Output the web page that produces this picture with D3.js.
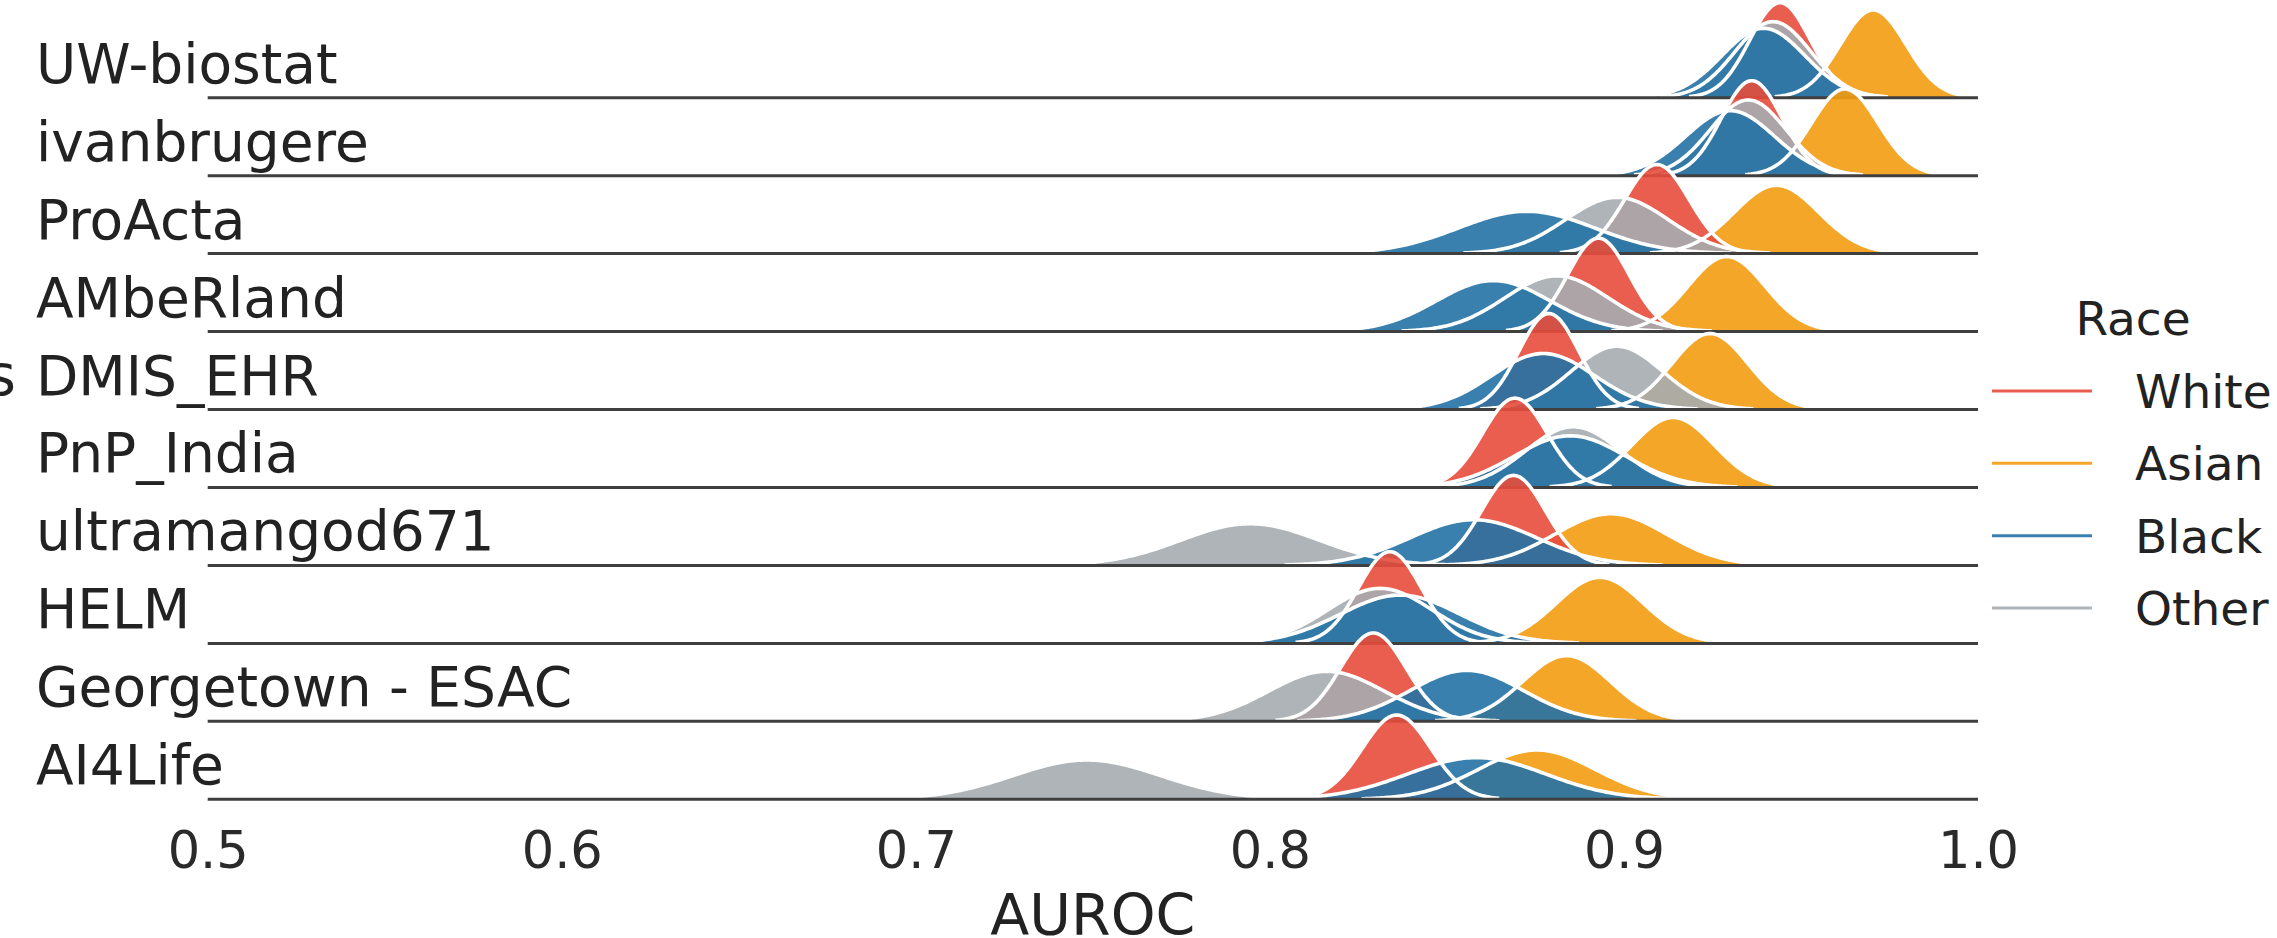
<!DOCTYPE html>
<html>
<head>
<meta charset="utf-8">
<script src="https://cdn.jsdelivr.net/npm/d3@7"></script>
<style>
  html, body { margin: 0; padding: 0; background: #ffffff; }
  svg { display: block; font-family: "DejaVu Sans", sans-serif; }
</style>
</head>
<body>
<svg id="chart" width="2277" height="938"></svg>
<script>
// ---- Data ----
const teams = ["UW-biostat", "ivanbrugere", "ProActa", "AMbeRland", "DMIS_EHR",
               "PnP_India", "ultramangod671", "HELM", "Georgetown - ESAC", "AI4Life"];
const races = ["White", "Asian", "Black", "Other"];
const xTicks = [0.5, 0.6, 0.7, 0.8, 0.9, 1.0];

// AUROC distribution per team (mean, sd), one pair of arrays per race
const whiteMean = [0.9441, 0.9361, 0.9093, 0.8928, 0.8788, 0.8692, 0.8688, 0.8339, 0.8292, 0.8358];
const whiteSd   = [0.00857, 0.00857, 0.00914, 0.00871, 0.00848, 0.00911, 0.00904, 0.00888, 0.00921, 0.00966];
const asianMean = [0.9704, 0.9624, 0.9431, 0.9290, 0.9243, 0.9139, 0.8963, 0.8932, 0.8838, 0.8754];
const asianSd   = [0.00928, 0.00939, 0.01192, 0.01085, 0.01071, 0.01163, 0.01575, 0.01233, 0.01239, 0.01651];
const blackMean = [0.9394, 0.9300, 0.8725, 0.8631, 0.8772, 0.8848, 0.8575, 0.8368, 0.8556, 0.8584];
const blackSd   = [0.01173, 0.01252, 0.01924, 0.01596, 0.01453, 0.01575, 0.01780, 0.01685, 0.01596, 0.01952];
const otherMean = [0.9421, 0.9351, 0.8980, 0.8810, 0.8980, 0.8857, 0.7944, 0.8311, 0.8160, 0.7483];
const otherSd   = [0.01070, 0.01075, 0.01446, 0.01461, 0.01286, 0.01340, 0.01952, 0.01480, 0.01628, 0.02071];

const raceColors = { White: "#E74C3C", Asian: "#F39C12", Black: "#2472A5", Other: "#A5ACAF" };
const drawOrder = ["Asian", "White", "Other", "Black"]; // bottom -> top
const params = {
  White: { mean: whiteMean, sd: whiteSd },
  Asian: { mean: asianMean, sd: asianSd },
  Black: { mean: blackMean, sd: blackSd },
  Other: { mean: otherMean, sd: otherSd }
};

// ---- Layout ----
const svg = d3.select("#chart");
const x = d3.scaleLinear().domain([0.5, 1.0]).range([207.7, 1978]);
const row = d3.scalePoint().domain(teams).range([97.7, 799.3]);
const dens = d3.scaleLinear().domain([0, 50]).range([0, 102]);

const textColor = "#222222";

function curvePoints(m, s) {
  const n = 160, lo = m - 3 * s, hi = m + 3 * s;
  return d3.range(n + 1).map(i => {
    const v = lo + (hi - lo) * i / n;
    const z = (v - m) / s;
    return { v, d: Math.exp(-0.5 * z * z) / (s * Math.sqrt(2 * Math.PI)) };
  });
}

teams.forEach((team, ti) => {
  const base = row(team);
  const g = svg.append("g").attr("class", "row");
  const area = d3.area().x(p => x(p.v)).y0(base).y1(p => base - dens(p.d));
  const line = d3.line().x(p => x(p.v)).y(p => base - dens(p.d));
  const curves = drawOrder.map(r => ({ race: r, pts: curvePoints(params[r].mean[ti], params[r].sd[ti]) }));

  g.selectAll("path.fill").data(curves).join("path")
    .attr("class", "fill")
    .attr("d", c => area(c.pts))
    .attr("fill", c => raceColors[c.race])
    .attr("fill-opacity", 0.9);

  g.selectAll("path.outline").data(curves).join("path")
    .attr("class", "outline")
    .attr("d", c => line(c.pts))
    .attr("fill", "none")
    .attr("stroke", "#ffffff")
    .attr("stroke-width", 3.6);

  g.append("line")
    .attr("x1", x(0.5)).attr("x2", x(1.0))
    .attr("y1", base).attr("y2", base)
    .attr("stroke", "#3f3f3f").attr("stroke-width", 3);

  g.append("text")
    .attr("x", 36).attr("y", base - 15)
    .attr("font-size", 55).attr("fill", textColor)
    .text(team);
});

// partially visible y-axis title on the left edge
svg.append("text")
  .attr("x", 16).attr("y", row("DMIS_EHR") - 15)
  .attr("text-anchor", "end")
  .attr("font-size", 57).attr("fill", textColor)
  .text("s");

// ---- X axis ----
const axis = d3.axisBottom(x).tickValues(xTicks).tickFormat(d3.format(".1f")).tickSize(0);
const axG = svg.append("g").attr("transform", `translate(0,${row(teams[teams.length - 1])})`).call(axis);
axG.select(".domain").remove();
axG.selectAll("text")
  .attr("y", 868 - row(teams[teams.length - 1]))
  .attr("dy", null)
  .attr("font-size", 51)
  .attr("font-family", "DejaVu Sans")
  .attr("fill", "#2a2a2a");

svg.append("text")
  .attr("x", (x(0.5) + x(1.0)) / 2).attr("y", 935)
  .attr("text-anchor", "middle")
  .attr("font-size", 57).attr("fill", textColor)
  .text("AUROC");

// ---- Legend ----
const leg = svg.append("g");
leg.append("text")
  .attr("x", 2133).attr("y", 335)
  .attr("text-anchor", "middle")
  .attr("font-size", 47).attr("fill", textColor)
  .text("Race");
const legY = d3.scalePoint().domain(races).range([408, 625]);
races.forEach(r => {
  const yb = legY(r);
  leg.append("line")
    .attr("x1", 1992).attr("x2", 2092)
    .attr("y1", yb - 17).attr("y2", yb - 17)
    .attr("stroke", raceColors[r]).attr("stroke-opacity", 0.9)
    .attr("stroke-width", 3);
  leg.append("text")
    .attr("x", 2135).attr("y", yb)
    .attr("font-size", 47).attr("fill", textColor)
    .text(r);
});
</script>
</body>
</html>
